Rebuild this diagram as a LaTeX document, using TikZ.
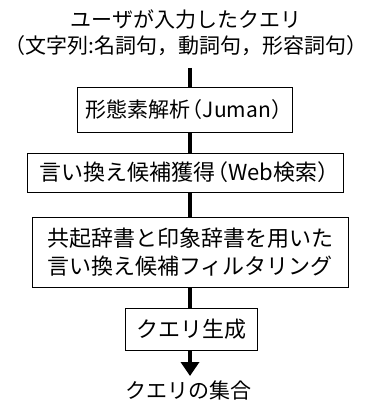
\documentclass[tikz,border=0pt]{standalone}
\usepackage{fontspec}
\setmainfont{Noto Sans CJK JP}
\usetikzlibrary{arrows.meta}
\begin{document}
\begin{tikzpicture}[x=1pt,y=-1pt,
  every node/.style={font=\fontsize{21}{27}\selectfont, inner sep=0pt},
  bigtext/.style={font=\fontsize{22}{28}\selectfont},
  procbox/.style={draw, line width=0.9pt, align=center},
  conn/.style={line width=4pt}]
\useasboundingbox (0,0) rectangle (371,403);
\node[align=center, font=\fontsize{21}{26}\selectfont] (title) at (186,33) {ユーザが入力したクエリ\\（文字列:名詞句，動詞句，形容詞句）};
\node[procbox, minimum width=215, minimum height=45] (b1) at (184.5,110) {形態素解析\kern-.4em（Juman）\kern-.4em};
\node[procbox, bigtext, minimum width=316, minimum height=39] (b2) at (185,172.5) {言い換え候補獲得\kern-.4em（Web検索）\kern-.4em};
\node[procbox, bigtext, minimum width=316, minimum height=70] (b3) at (190,252) {共起辞書と印象辞書を用いた\\言い換え候補フィルタリング};
\node[procbox, bigtext, minimum width=132, minimum height=42] (b4) at (191,329) {クエリ生成};
\node (out) at (188,391) {クエリの集合};
\coordinate (t0) at (190,68);
\coordinate (tip) at (190,376);
\draw[conn] (t0) -- (b1.north -| t0);
\draw[conn] (b1.south -| t0) -- (b2.north -| t0);
\draw[conn] (b2.south -| t0) -- (b3.north -| t0);
\draw[conn] (b3.south -| t0) -- (b4.north -| t0);
\draw[conn, -{Triangle[width=18pt,length=14pt]}] (b4.south -| t0) -- (tip);
\end{tikzpicture}
\end{document}
